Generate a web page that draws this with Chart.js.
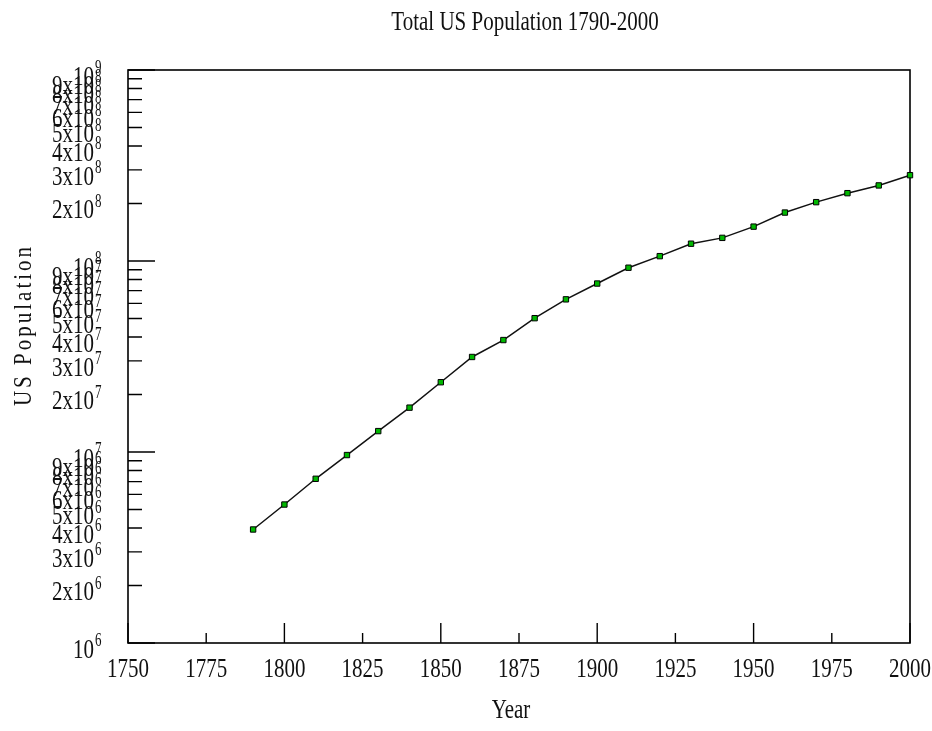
<!DOCTYPE html>
<html><head><meta charset="utf-8">
<script src="https://cdn.jsdelivr.net/npm/chart.js@4"></script>
<style>html,body{margin:0;padding:0;background:#fff}canvas{display:block}</style>
</head><body>
<canvas id="c" width="932" height="731"></canvas>
<script>
const years = [1790,1800,1810,1820,1830,1840,1850,1860,1870,1880,1890,1900,1910,1920,1930,1940,1950,1960,1970,1980,1990,2000];
const population = [3929214,5308483,7239881,9638453,12866020,17069453,23191876,31443321,38558371,50189209,62979766,76212168,92228496,106021537,123202624,132164569,151325798,179323175,203302031,226542199,248709873,281421906];
const chartTitle = 'Total US Population 1790-2000';
const xTitle = 'Year';
const yTitle = 'US Population';
const xMin = 1750, xMax = 2000, xStep = 25, xMajorStep = 50;
const yMin = 1e6, yMax = 1e9;
const yMantissas = [1,2,3,4,5,6,7,8,9];
const yExponents = [6,7,8,9];

const FONT = '"Liberation Serif", "DejaVu Serif", serif';
const INK = '#111';

function stretchText(ctx, text, x, y, size, sy, align) {
  ctx.save();
  ctx.font = size + 'px ' + FONT;
  ctx.fillStyle = INK;
  ctx.textAlign = align;
  ctx.textBaseline = 'middle';
  ctx.translate(x, y);
  ctx.scale(1, sy);
  ctx.fillText(text, 0, 0);
  ctx.restore();
}

function splitLog(v) {
  const e0 = Math.floor(Math.log10(v) + 1e-9);
  const m = Math.round(v / Math.pow(10, e0));
  return { m, e: e0 };
}

const decorPlugin = {
  id: 'decor',
  beforeDatasetsDraw(chart) {
    const ctx = chart.ctx, a = chart.chartArea;
    const xs = chart.scales.x, ys = chart.scales.y;
    ctx.save();
    ctx.strokeStyle = '#000';
    ctx.lineWidth = 1.6;
    ctx.strokeRect(a.left, a.top, a.right - a.left, a.bottom - a.top);
    ctx.lineWidth = 1.4;
    ctx.beginPath();
    xs.ticks.forEach(t => {
      const px = xs.getPixelForValue(t.value);
      const major = Math.abs((t.value - xMin) % xMajorStep) < 1e-6;
      const len = major ? 20 : 10;
      ctx.moveTo(px, a.bottom);
      ctx.lineTo(px, a.bottom - len);
    });
    ys.ticks.forEach(t => {
      const py = ys.getPixelForValue(t.value);
      const { m } = splitLog(t.value);
      const len = m === 1 ? 27 : 14;
      ctx.moveTo(a.left, py);
      ctx.lineTo(a.left + len, py);
    });
    ctx.stroke();
    ctx.restore();
  },
  afterDraw(chart) {
    const ctx = chart.ctx;
    const xs = chart.scales.x, ys = chart.scales.y;
    stretchText(ctx, chartTitle, 525, 23, 21, 1.3, 'center');
    xs.ticks.forEach(t => {
      const px = xs.getPixelForValue(t.value);
      stretchText(ctx, String(t.value), px, 670, 21, 1.3, 'center');
    });
    stretchText(ctx, xTitle, 511, 711, 21, 1.3, 'center');
    ctx.save();
    ctx.translate(25, 325);
    ctx.rotate(-Math.PI / 2);
    ctx.font = '21px ' + FONT;
    ctx.letterSpacing = '3px';
    ctx.fillStyle = INK;
    ctx.textAlign = 'center';
    ctx.textBaseline = 'middle';
    ctx.scale(1.0, 1.15);
    ctx.fillText(yTitle, 0, 0);
    ctx.restore();
    ys.ticks.forEach(t => {
      const py = ys.getPixelForValue(t.value);
      const { m, e } = splitLog(t.value);
      const base = m === 1 ? '10' : m + 'x10';
      stretchText(ctx, base, 94, py + 8, 21, 1.25, 'right');
      stretchText(ctx, String(e), 95, py - 2, 13, 1.5, 'left');
    });
  }
};

new Chart(document.getElementById('c'), {
  type: 'line',
  data: {
    datasets: [{
      data: years.map((y, i) => ({ x: y, y: population[i] })),
      borderColor: '#111',
      borderWidth: 1.5,
      tension: 0,
      pointStyle: 'rect',
      pointRadius: 3.8,
      pointBackgroundColor: '#00b800',
      pointBorderColor: '#000',
      pointBorderWidth: 1,
      clip: 10
    }]
  },
  options: {
    responsive: false,
    animation: false,
    events: [],
    layout: { padding: { left: 128, right: 22, top: 70, bottom: 88 } },
    plugins: { legend: { display: false }, title: { display: false }, tooltip: { enabled: false } },
    scales: {
      x: {
        type: 'linear', min: xMin, max: xMax,
        ticks: { display: false, stepSize: xStep },
        grid: { display: false, drawTicks: false },
        border: { display: false },
        afterFit(s) { s.height = 0; }
      },
      y: {
        type: 'logarithmic', min: yMin, max: yMax,
        ticks: { display: false },
        grid: { display: false, drawTicks: false },
        border: { display: false },
        afterBuildTicks(s) {
          const vals = [];
          yExponents.forEach(e => yMantissas.forEach(m => {
            const v = m * Math.pow(10, e);
            if (v >= yMin && v <= yMax) vals.push({ value: v });
          }));
          s.ticks = vals;
        },
        afterFit(s) { s.width = 0; }
      }
    }
  },
  plugins: [decorPlugin]
});
</script>
</body></html>
